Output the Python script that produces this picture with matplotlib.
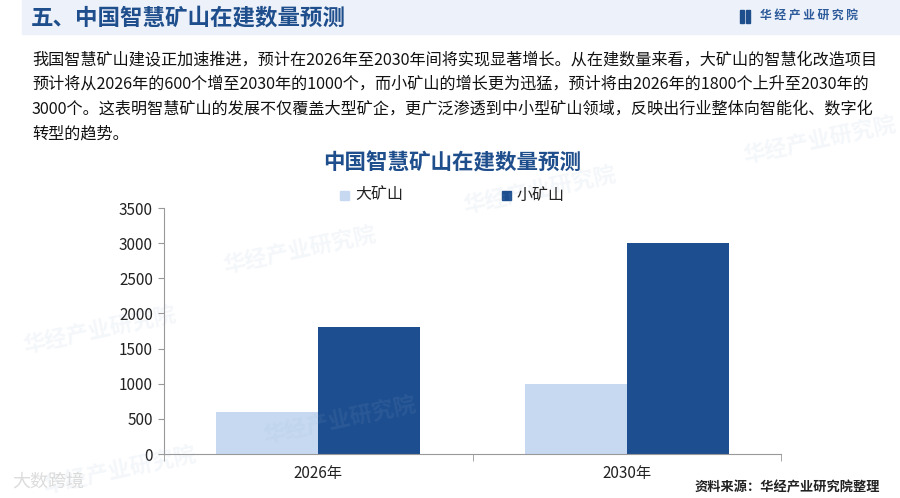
import matplotlib
matplotlib.use("Agg")
import matplotlib.pyplot as plt
from matplotlib.patches import Rectangle

plt.rcParams['font.family'] = ['Noto Sans CJK SC', 'DejaVu Sans']

# 数据
categories = ["2026年", "2030年"]
series_names = ["大矿山", "小矿山"]
large_mines = [600, 1000]
small_mines = [1800, 3000]
y_ticks = [0, 500, 1000, 1500, 2000, 2500, 3000, 3500]

LIGHT = "#c6d9f1"
DARK = "#1d4e8f"
TITLE_BLUE = "#1f4e8c"

paragraph = [
    "我国智慧矿山建设正加速推进，预计在2026年至2030年间将实现显著增长。从在建数量来看，大矿山的智慧化改造项目",
    "预计将从2026年的600个增至2030年的1000个，而小矿山的增长更为迅猛，预计将由2026年的1800个上升至2030年的",
    "3000个。这表明智慧矿山的发展不仅覆盖大型矿企，更广泛渗透到中小型矿山领域，反映出行业整体向智能化、数字化",
    "转型的趋势。",
]

fig = plt.figure(figsize=(9, 4.98), dpi=100)
W, H = 900, 498

def fx(x):
    return x / W

def fy(y):
    return 1 - y / H

# 顶部标题栏
fig.patches.append(Rectangle((fx(22), fy(34)), 1 - fx(22), 34 / H,
                             transform=fig.transFigure, color="#edf2fa", zorder=0))
fig.text(fx(31), fy(18), "五、中国智慧矿山在建数量预测", fontsize=16.2, fontweight="bold",
         color=TITLE_BLUE, va="center", ha="left")
# logo
for x0 in [740, 746]:
    fig.patches.append(Rectangle((fx(x0), fy(23)), 3.5 / W, 13 / H,
                                 transform=fig.transFigure, color=TITLE_BLUE))
fig.text(fx(760), fy(16), "华 经 产 业 研 究 院", fontsize=8.5, fontweight="bold",
         color="#2c5a9a", va="center", ha="left")

# 水印
for (x, y) in [(100, 330), (300, 250), (540, 190), (120, 470), (340, 420), (820, 140)]:
    fig.text(fx(x), fy(y), "华经产业研究院", fontsize=16, fontweight="bold",
             color="#9fb4d4", alpha=0.11, rotation=12, ha="center", va="center")
fig.text(fx(12), fy(482), "大数跨境", fontsize=13, color="#d4d4d4", alpha=0.8,
         ha="left", va="center")

# 段落
for i, line in enumerate(paragraph):
    fig.text(fx(32), fy(60 + i * 24.5), line, fontsize=11.6, color="#111111",
             ha="left", va="center")

# 图表标题与图例
fig.text(fx(452), fy(163), "中国智慧矿山在建数量预测", fontsize=15.5, fontweight="bold",
         color=TITLE_BLUE, ha="center", va="center")
for x0, name, col in [(340, series_names[0], LIGHT), (502, series_names[1], DARK)]:
    fig.patches.append(Rectangle((fx(x0), fy(200)), 9 / W, 9 / H,
                                 transform=fig.transFigure, color=col))
    fig.text(fx(x0 + 15), fy(195), name, fontsize=11.5, ha="left", va="center",
             color="#222222")

# 柱状图
ax = fig.add_axes([fx(164), fy(454), (781 - 164) / W, (454 - 208) / H])
ax.patch.set_alpha(0)
xs = list(range(len(categories)))
bw = 0.33
ax.bar([x - bw / 2 for x in xs], large_mines, width=bw, color=LIGHT, zorder=2)
ax.bar([x + bw / 2 for x in xs], small_mines, width=bw, color=DARK, zorder=2)

ax.set_xlim(-0.5, 1.5)
ax.set_ylim(0, 3500)
ax.set_yticks(y_ticks)
ax.set_yticklabels([str(v) for v in y_ticks], fontsize=11, color="#222222")
ax.set_xticks(xs)
ax.set_xticklabels(categories, fontsize=11, color="#222222")
ax.set_xticks([-0.5, 0.5, 1.5], minor=True)
ax.tick_params(axis="x", which="major", length=0, pad=8)
ax.tick_params(axis="x", which="minor", length=5, color="#999999")
ax.tick_params(axis="y", length=4, color="#999999", pad=4)
for s in ["top", "right"]:
    ax.spines[s].set_visible(False)
for s in ["left", "bottom"]:
    ax.spines[s].set_color("#999999")

fig.text(fx(880), fy(487), "资料来源：华经产业研究院整理", fontsize=9.5, fontweight="bold",
         color="#222222", ha="right", va="center")

fig.savefig("out.png", dpi=100)
